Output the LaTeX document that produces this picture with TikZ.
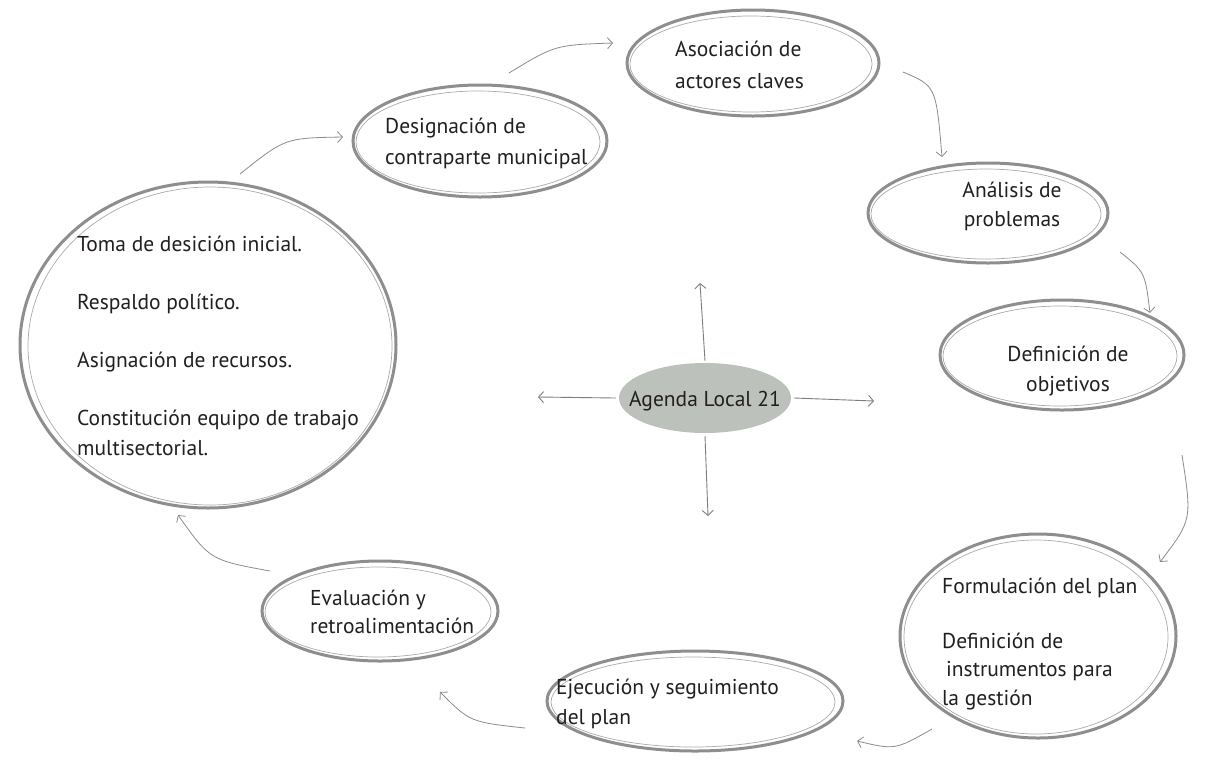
\documentclass[tikz,border=0pt]{standalone}
\usepackage{fontspec}
\setmainfont{PT Sans}
\usetikzlibrary{shapes.geometric,arrows.meta,calc}
\definecolor{ringc}{HTML}{8E8E8E}
\definecolor{arrc}{HTML}{8C8C8C}
\definecolor{txtc}{HTML}{231F20}
\definecolor{agfill}{HTML}{BCC1BC}
\begin{document}
\begin{tikzpicture}[x=1pt,y=-1pt,
  ringnode/.style={ellipse, draw=ringc, line width=3pt, inner sep=0pt},
  innerring/.style={draw=ringc!75, line width=0.7pt},
  lbl/.style={text=txtc, font=\fontsize{21.5}{30}\selectfont, inner sep=0pt},
  cyc/.style={draw=arrc, line width=0.8pt, -{Straight Barb[length=5pt,width=11pt,line width=0.8pt]}},
  carr/.style={draw=arrc!90!black, line width=0.9pt, -{Straight Barb[length=5pt,width=11pt,line width=0.9pt]}}]
\useasboundingbox (0,0) rectangle (1209,769);
\fill[white] (0,0) rectangle (1209,769);

% rings
\node[ringnode, minimum width=376, minimum height=326] (big) at (208,345) {};
\draw[innerring] ($(big.center)+(2,1)$) ellipse [x radius=182, y radius=159];
\node[ringnode, minimum width=254, minimum height=112] (des) at (480,141) {};
\draw[innerring] ($(des.center)+(-2,1)$) ellipse [x radius=122, y radius=51];
\node[ringnode, minimum width=252, minimum height=106] (aso) at (753,63) {};
\draw[innerring] ($(aso.center)+(-2,1)$) ellipse [x radius=121, y radius=48];
\node[ringnode, minimum width=240, minimum height=100] (ana) at (988,213) {};
\draw[innerring] ($(ana.center)+(-2,1)$) ellipse [x radius=115, y radius=45];
\node[ringnode, minimum width=244, minimum height=110] (obj) at (1062,355) {};
\draw[innerring] ($(obj.center)+(-2,1)$) ellipse [x radius=117, y radius=50];
\node[ringnode, minimum width=276, minimum height=204] (for) at (1038,636) {};
\draw[innerring] ($(for.center)+(-2,1)$) ellipse [x radius=132, y radius=97];
\node[ringnode, minimum width=296, minimum height=100] (eje) at (695,701) {};
\draw[innerring] ($(eje.center)+(-2,1)$) ellipse [x radius=142, y radius=45];
\node[ringnode, minimum width=236, minimum height=100] (eva) at (380,611) {};
\draw[innerring] ($(eva.center)+(-2,1)$) ellipse [x radius=113, y radius=45];

\node[ellipse, fill=agfill, minimum width=172, minimum height=70, inner sep=0pt] (ag) at (705,398) {};

% texts (anchor = baseline of last line)
\node[lbl, anchor=base west, align=left] (tbig) at (77,455)
  {Toma de desici\'on inicial.\\[28pt]Respaldo pol\'itico.\\[28pt]Asignaci\'on de recursos.\\[28pt]Constituci\'on equipo de trabajo\\multisectorial.};
\node[lbl, anchor=base west, align=left, font=\fontsize{21.5}{31}\selectfont] (tdes) at (385,164) {Designaci\'on de\\contraparte municipal};
\node[lbl, anchor=base west, align=left, font=\fontsize{21.5}{32}\selectfont] (taso) at (675,88) {Asociaci\'on de\\actores claves};
\node[lbl, anchor=base, align=center, font=\fontsize{21.5}{29}\selectfont] (tana) at (1012,226) {An\'alisis de\\problemas};
\node[lbl, anchor=base, align=center] (tobj) at (1068,391) {Definici\'on de\\objetivos};
\node[lbl, anchor=base west, align=left, font=\fontsize{21.5}{28.5}\selectfont] (tfor) at (942,705)
  {Formulaci\'on del plan\\[26pt]Definici\'on de\\\hspace{4pt}instrumentos para\\la gesti\'on};
\node[lbl, anchor=base west, align=left] (teje) at (556,724) {Ejecuci\'on y seguimiento\\del plan};
\node[lbl, anchor=base west, align=left, font=\fontsize{21.5}{28}\selectfont] (teva) at (310,633) {Evaluaci\'on y\\retroalimentaci\'on};
\node[lbl, anchor=base] (tag) at (705,406) {Agenda Local 21};

% centre arrows
\coordinate (up) at (700,283);
\coordinate (lf) at (538,397);
\coordinate (rt) at (874,401);
\coordinate (dn) at (708,516);
\draw[carr] (ag.north) ++(0,-2) coordinate (agn) (agn) -- (up);
\draw[carr] (ag.west) ++(-3,0) coordinate (agw) (agw) -- (lf);
\draw[carr] (ag.east) ++(3,0) coordinate (age) (age) -- (rt);
\draw[carr] (ag.south) ++(0,3) coordinate (ags) (ags) -- (dn);

% cycle arrows
\coordinate (a1s) at (240,174); \coordinate (a1e) at (343,137);
\coordinate (a2s) at (509,73);  \coordinate (a2e) at (613,43);
\coordinate (a3s) at (903,72);  \coordinate (a3e) at (942,157);
\coordinate (a4s) at (1120,252); \coordinate (a4e) at (1150,313);
\coordinate (a5s) at (1182,455); \coordinate (a5e) at (1160,562);
\coordinate (a6s) at (932,729); \coordinate (a6e) at (857,741);
\coordinate (a7s) at (525,728); \coordinate (a7e) at (440,692);
\coordinate (a8s) at (270,571); \coordinate (a8e) at (178,515);
\draw[cyc] (a1s) .. controls (285,138) .. (a1e);
\draw[cyc] (a2s) .. controls (555,45) .. (a2e);
\draw[cyc] (a3s) .. controls (936,86) .. (a3e);
\draw[cyc] (a4s) .. controls (1145,272) .. (a4e);
\draw[cyc] (a5s) .. controls (1192,520) .. (a5e);
\draw[cyc] (a6s) .. controls (895,750) .. (a6e);
\draw[cyc] (a7s) .. controls (470,722) .. (a7e);
\draw[cyc] (a8s) .. controls (210,560) .. (a8e);
\end{tikzpicture}
\end{document}
